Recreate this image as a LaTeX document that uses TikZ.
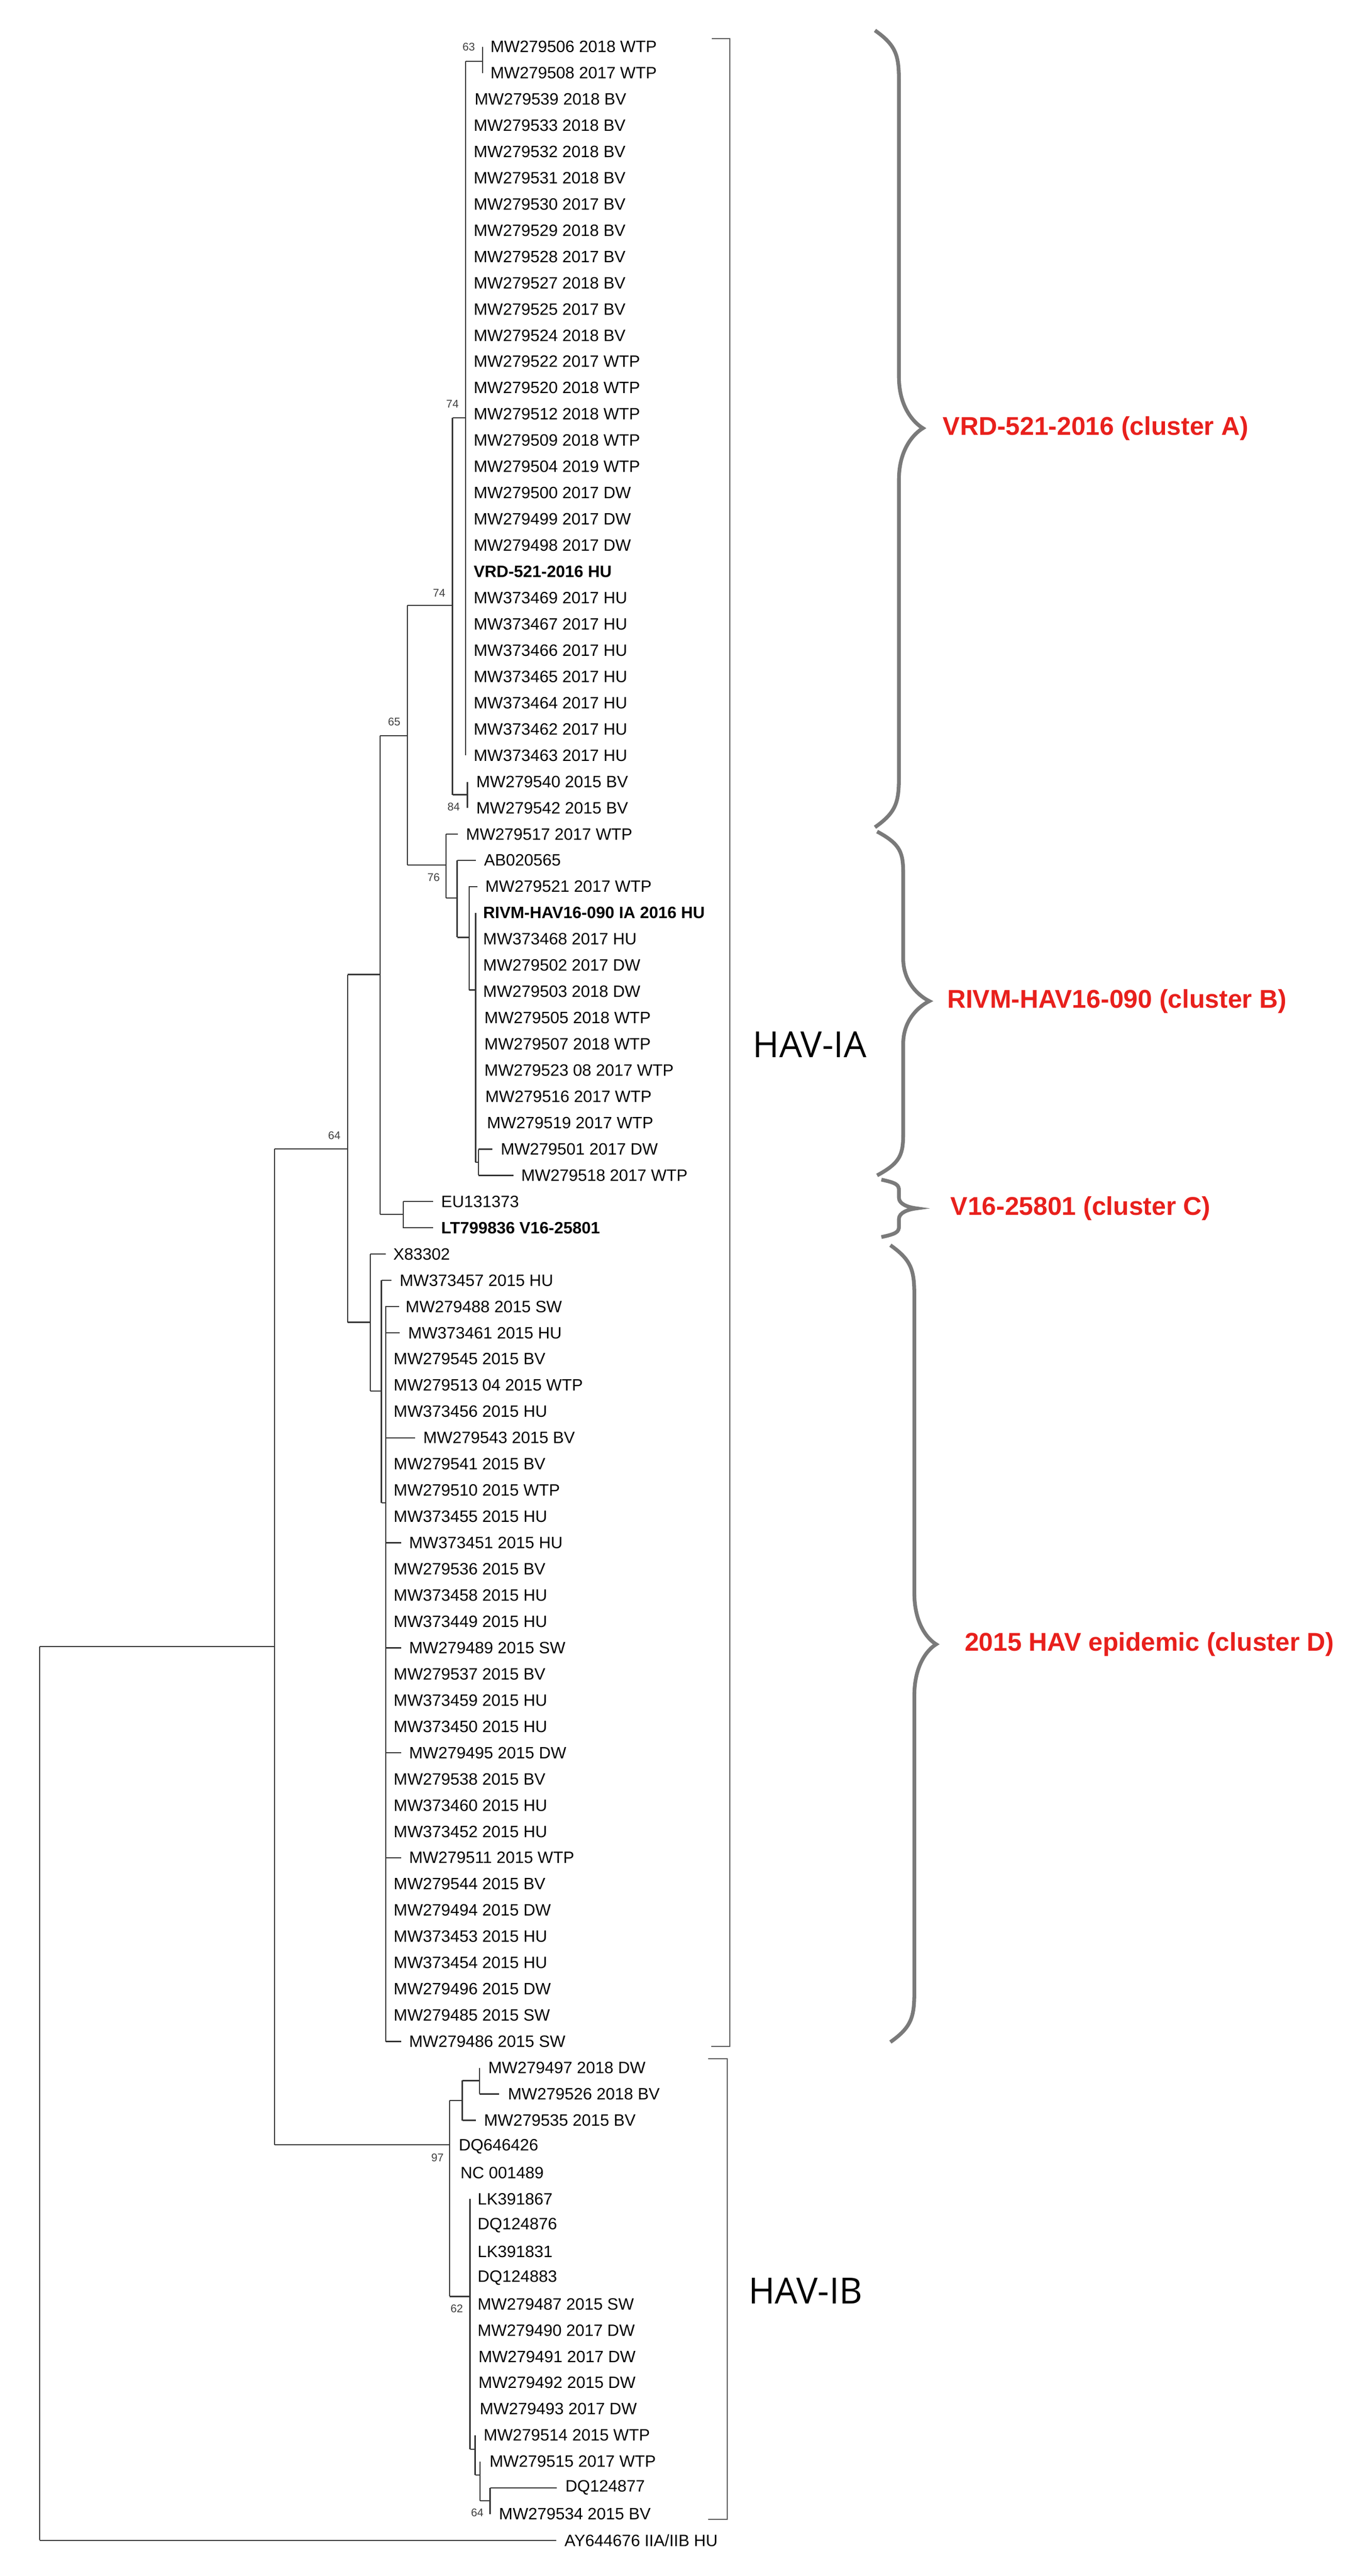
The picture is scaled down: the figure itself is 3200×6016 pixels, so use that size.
\documentclass[tikz,border=0pt]{standalone}
\usepackage{fontspec}
\setmainfont{Liberation Sans}
\newfontfamily\osans{Open Sans}
\definecolor{brc}{HTML}{333333}
\definecolor{bgr}{HTML}{7A7A7A}
\definecolor{cred}{HTML}{E8201C}
\newcommand\yy[1]{(109+61.3*(#1-1))}
\newcommand\lf[5]{%
  \draw[br] (#2,{\yy{#1}}) -- (#3,{\yy{#1}});
  \node[lab] (L#1) at (#4,{\yy{#1}}) {#5};}
\newcommand\vb[4]{% x, ytop, ybot, parent x at join y
  \draw[br] (#1,#2) -- (#1,#3);}
\newcommand\hb[3]{\draw[br] (#1,#3) -- (#2,#3);}
\newcommand\brc[7]{% xend xbody xtip ytop ymid ybot curl
  \draw[brace] (#1,#4) .. controls ({#2-5},{#4+0.3*#7}) and (#2,{#4+0.5*#7}) .. (#2,{#4+#7})
   -- (#2,{#5-#7}) .. controls (#2,{#5-0.4*#7}) and ({#3-20},{#5-0.1*#7}) .. (#3,#5)
   .. controls ({#3-20},{#5+0.1*#7}) and (#2,{#5+0.4*#7}) .. (#2,{#5+#7})
   -- (#2,{#6-#7}) .. controls (#2,{#6-0.5*#7}) and ({#2-5},{#6-0.3*#7}) .. (#1,#6);}
\begin{document}
\begin{tikzpicture}[x=0.25pt,y=-0.25pt,
  br/.style={draw=brc,line width=0.7pt},
  lab/.style={anchor=west,inner sep=0pt,font=\fontsize{9.6}{11}\selectfont,text=black},
  blab/.style={lab,font=\fontsize{9.6}{11}\selectfont\bfseries},
  bs/.style={inner sep=0pt,font=\fontsize{6.5}{7}\selectfont,text=black!75},
  brace/.style={draw=bgr,line width=2.2pt},
  bkt/.style={draw=black!65,line width=0.6pt},
  clab/.style={anchor=west,inner sep=0pt,text=cred,font=\fontsize{15}{17}\selectfont\bfseries},
  glab/.style={anchor=west,inner sep=0pt,font=\osans\fontsize{21}{24}\selectfont}]
\useasboundingbox (0,0) rectangle (3200,6016);
% ---------------- leaves ----------------
\lf{1}{1127}{1127}{1145}{MW279506 2018 WTP}
\lf{2}{1127}{1127}{1145}{MW279508 2017 WTP}
\lf{3}{1088}{1088}{1108}{MW279539 2018 BV}
\lf{4}{1088}{1088}{1106}{MW279533 2018 BV}
\lf{5}{1088}{1088}{1106}{MW279532 2018 BV}
\lf{6}{1088}{1088}{1106}{MW279531 2018 BV}
\lf{7}{1088}{1088}{1106}{MW279530 2017 BV}
\lf{8}{1088}{1088}{1106}{MW279529 2018 BV}
\lf{9}{1088}{1088}{1106}{MW279528 2017 BV}
\lf{10}{1088}{1088}{1106}{MW279527 2018 BV}
\lf{11}{1088}{1088}{1106}{MW279525 2017 BV}
\lf{12}{1088}{1088}{1106}{MW279524 2018 BV}
\lf{13}{1088}{1088}{1106}{MW279522 2017 WTP}
\lf{14}{1088}{1088}{1106}{MW279520 2018 WTP}
\lf{15}{1088}{1088}{1106}{MW279512 2018 WTP}
\lf{16}{1088}{1088}{1106}{MW279509 2018 WTP}
\lf{17}{1088}{1088}{1106}{MW279504 2019 WTP}
\lf{18}{1088}{1088}{1106}{MW279500 2017 DW}
\lf{19}{1088}{1088}{1106}{MW279499 2017 DW}
\lf{20}{1088}{1088}{1106}{MW279498 2017 DW}
\lf{21}{1088}{1088}{1106}{\textbf{VRD-521-2016 HU}}
\lf{22}{1088}{1088}{1106}{MW373469 2017 HU}
\lf{23}{1088}{1088}{1106}{MW373467 2017 HU}
\lf{24}{1088}{1088}{1106}{MW373466 2017 HU}
\lf{25}{1088}{1088}{1106}{MW373465 2017 HU}
\lf{26}{1088}{1088}{1106}{MW373464 2017 HU}
\lf{27}{1088}{1088}{1106}{MW373462 2017 HU}
\lf{28}{1088}{1088}{1106}{MW373463 2017 HU}
\lf{29}{1092}{1092}{1112}{MW279540 2015 BV}
\lf{30}{1092}{1092}{1112}{MW279542 2015 BV}
\lf{31}{1042}{1070}{1088}{MW279517 2017 WTP}
\lf{32}{1068}{1112}{1130}{AB020565}
\lf{33}{1096}{1115}{1133}{MW279521 2017 WTP}
\lf{34}{1111}{1111}{1128}{\textbf{RIVM-HAV16-090 IA 2016 HU}}
\lf{35}{1111}{1111}{1128}{MW373468 2017 HU}
\lf{36}{1111}{1111}{1128}{MW279502 2017 DW}
\lf{37}{1111}{1111}{1128}{MW279503 2018 DW}
\lf{38}{1111}{1111}{1131}{MW279505 2018 WTP}
\lf{39}{1111}{1111}{1131}{MW279507 2018 WTP}
\lf{40}{1111}{1111}{1131}{MW279523 08 2017 WTP}
\lf{41}{1111}{1111}{1133}{MW279516 2017 WTP}
\lf{42}{1111}{1111}{1137}{MW279519 2017 WTP}
\lf{43}{1118}{1150}{1169}{MW279501 2017 DW}
\lf{44}{1118}{1200}{1217}{MW279518 2017 WTP}
\lf{45}{942}{1012}{1030}{EU131373}
\lf{46}{942}{1012}{1030}{\textbf{LT799836 V16-25801}}
\lf{47}{865}{901}{918}{X83302}
\lf{48}{891}{914}{933}{MW373457 2015 HU}
\lf{49}{901}{932}{947}{MW279488 2015 SW}
\lf{50}{901}{934}{953}{MW373461 2015 HU}
\lf{51}{901}{901}{919}{MW279545 2015 BV}
\lf{52}{901}{901}{919}{MW279513 04 2015 WTP}
\lf{53}{901}{901}{919}{MW373456 2015 HU}
\lf{54}{901}{970}{988}{MW279543 2015 BV}
\lf{55}{901}{901}{919}{MW279541 2015 BV}
\lf{56}{901}{901}{919}{MW279510 2015 WTP}
\lf{57}{901}{901}{919}{MW373455 2015 HU}
\lf{58}{901}{937}{955}{MW373451 2015 HU}
\lf{59}{901}{901}{919}{MW279536 2015 BV}
\lf{60}{901}{901}{919}{MW373458 2015 HU}
\lf{61}{901}{901}{919}{MW373449 2015 HU}
\lf{62}{901}{937}{955}{MW279489 2015 SW}
\lf{63}{901}{901}{919}{MW279537 2015 BV}
\lf{64}{901}{901}{919}{MW373459 2015 HU}
\lf{65}{901}{901}{919}{MW373450 2015 HU}
\lf{66}{901}{937}{955}{MW279495 2015 DW}
\lf{67}{901}{901}{919}{MW279538 2015 BV}
\lf{68}{901}{901}{919}{MW373460 2015 HU}
\lf{69}{901}{901}{919}{MW373452 2015 HU}
\lf{70}{901}{937}{955}{MW279511 2015 WTP}
\lf{71}{901}{901}{919}{MW279544 2015 BV}
\lf{72}{901}{901}{919}{MW279494 2015 DW}
\lf{73}{901}{901}{919}{MW373453 2015 HU}
\lf{74}{901}{901}{919}{MW373454 2015 HU}
\lf{75}{901}{901}{919}{MW279496 2015 DW}
\lf{76}{901}{901}{919}{MW279485 2015 SW}
\lf{77}{901}{937}{955}{MW279486 2015 SW}
\lf{78}{1120}{1120}{1140}{MW279497 2018 DW}
\lf{79}{1120}{1166}{1186}{MW279526 2018 BV}
\lf{80}{1080}{1112}{1130}{MW279535 2015 BV}
\lf{81}{1050}{1050}{1071}{DQ646426}
\lf{82}{1050}{1050}{1075}{NC 001489}
\lf{83}{1098}{1098}{1115}{LK391867}
\lf{84}{1098}{1098}{1115}{DQ124876}
\lf{85}{1098}{1098}{1115}{LK391831}
\lf{86}{1098}{1098}{1115}{DQ124883}
\lf{87}{1098}{1098}{1115}{MW279487 2015 SW}
\lf{88}{1098}{1098}{1115}{MW279490 2017 DW}
\lf{89}{1098}{1098}{1117}{MW279491 2017 DW}
\lf{90}{1098}{1098}{1117}{MW279492 2015 DW}
\lf{91}{1098}{1098}{1120}{MW279493 2017 DW}
\lf{92}{1110}{1110}{1129}{MW279514 2015 WTP}
\lf{93}{1121}{1121}{1143}{MW279515 2017 WTP}
\lf{94}{1145}{1301}{1320}{DQ124877}
\lf{95}{1145}{1145}{1165}{MW279534 2015 BV}
\lf{96}{93}{1300}{1318}{AY644676 IIA/IIB HU}
% ---------------- internal branches ----------------
% cluster A
\vb{1127}{109}{170.3}{}\hb{1088}{1127}{143}
\vb{1088}{143}{1764}{}\hb{1057}{1088}{976}
\vb{1092}{1826}{1887}{}\hb{1057}{1092}{1856}
\vb{1057}{976}{1856}{}\hb{952}{1057}{1414}
% cluster B
\vb{1042}{1948}{2097}{}\hb{952}{1042}{2020}
\vb{1068}{2009}{2189}{}\hb{1042}{1068}{2097}
\vb{1096}{2070}{2312}{}\hb{1068}{1096}{2189}
\vb{1111}{2132}{2714}{}\hb{1096}{1111}{2312}
\vb{1118}{2684}{2745}{}\hb{1111}{1118}{2714}
\vb{952}{1414}{2020}{}\hb{888}{952}{1718}
% cluster C
\vb{942}{2806}{2868}{}\hb{888}{942}{2836}
\vb{888}{1718}{2836}{}\hb{812}{888}{2276}
% cluster D
\vb{865}{2929}{3249}{}\hb{812}{865}{3088}
\vb{891}{2990}{3510}{}\hb{865}{891}{3249}
\vb{901}{3050}{4768}{}\hb{891}{901}{3510}
\vb{812}{2276}{3088}{}\hb{641}{812}{2683}
\vb{641}{2683}{5009}{}\hb{93}{641}{3845}
\vb{93}{3845}{5932}{}
% HAV-IB
\vb{1050}{4905}{5363}{}\hb{641}{1050}{5009}
\vb{1080}{4859}{4952}{}\hb{1050}{1080}{4905}
\vb{1120}{4829}{4890}{}\hb{1080}{1120}{4859}
\vb{1098}{5135}{5720}{}\hb{1050}{1098}{5363}
\vb{1110}{5688}{5780}{}\hb{1098}{1110}{5720}
\vb{1121}{5749}{5840}{}\hb{1110}{1121}{5780}
\vb{1145}{5810}{5871}{}\hb{1121}{1145}{5840}
% ---------------- bootstrap values ----------------
\node[bs] (b63) at (1095,109) {63};
\node[bs] (b74a) at (1057,943) {74};
\node[bs] (b74b) at (1026,1385) {74};
\node[bs] (b65) at (921,1686) {65};
\node[bs] (b84) at (1060,1884) {84};
\node[bs] (b76) at (1013,2049) {76};
\node[bs] (b64a) at (781,2652) {64};
\node[bs] (b97) at (1022,5039) {97};
\node[bs] (b62) at (1067,5392) {62};
\node[bs] (b64b) at (1115,5868) {64};
% ---------------- brackets ----------------
\draw[bkt] (1663,90) -- (1705,90) -- (1705,4779) -- (1661,4779);
\draw[bkt] (1654,4808) -- (1699,4808) -- (1699,5883) -- (1654,5883);
\node[glab] (hia) at (1758,2439) {HAV-IA};
\node[glab] (hib) at (1748,5350) {HAV-IB};
% ---------------- braces ----------------
\brc{2044}{2100}{2156}{71}{1000}{1932}{120}
\brc{2049}{2110}{2171}{1942}{2338}{2745}{100}
\brc{2059}{2100}{2141}{2755}{2822}{2889}{25}
\brc{2080}{2136}{2187}{2908}{3840}{4769}{120}
\node[clab] (ca) at (2202,1000) {VRD-521-2016 (cluster A)};
\node[clab] (cb) at (2212,2338) {RIVM-HAV16-090 (cluster B)};
\node[clab] (cc) at (2220,2822) {V16-25801 (cluster C)};
\node[clab] (cd) at (2253,3840) {2015 HAV epidemic (cluster D)};
\end{tikzpicture}
\end{document}
